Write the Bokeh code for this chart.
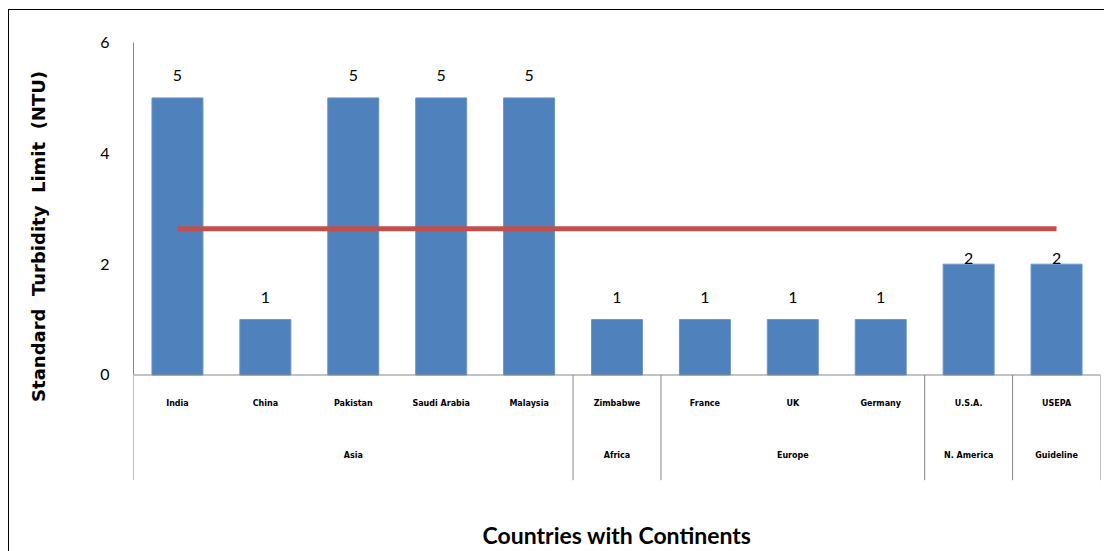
from bokeh.plotting import figure
from bokeh.models import Range1d, FixedTicker, ColumnDataSource
from bokeh.core.properties import value
from bokeh.embed import file_html
from bokeh.resources import INLINE

countries = ["India", "China", "Pakistan", "Saudi Arabia", "Malaysia", "Zimbabwe",
             "France", "UK", "Germany", "U.S.A.", "USEPA"]
continents = ["Asia", "Asia", "Asia", "Asia", "Asia", "Africa",
              "Europe", "Europe", "Europe", "N. America", "Guideline"]
limits = [5, 1, 5, 5, 5, 1, 1, 1, 1, 2, 2]
average_limit = 2.64
y_ticks = [0, 2, 4, 6]
y_title = "Standard  Turbidity  Limit  (NTU)"
x_title = "Countries with Continents"

BAR = "#4F81BD"
RED = "#C0504D"
GREY = "#868686"

n = len(countries)
xs = [i + 0.5 for i in range(n)]

p = figure(width=1104, height=551, x_range=Range1d(0, n), y_range=Range1d(-1.904, 6),
           output_backend="svg", toolbar_location=None,
           min_border_left=133, min_border_right=4, min_border_top=42, min_border_bottom=69)
p.outline_line_color = None
p.background_fill_color = None
p.border_fill_color = None
p.xgrid.visible = False
p.ygrid.visible = False
p.styles = {
    "background-color": "white",
    "background-image": "linear-gradient(#000,#000), linear-gradient(#000,#000)",
    "background-size": "1px 600px, 1100px 1px",
    "background-position": "8px 9px, 8px 9px",
    "background-repeat": "no-repeat",
}

# y axis
yax = p.yaxis[0]
yax.ticker = FixedTicker(ticks=y_ticks)
yax.bounds = (0, 6)
yax.axis_line_color = GREY
yax.major_tick_line_color = None
yax.minor_tick_line_color = None
yax.major_tick_out = 0
yax.major_tick_in = 0
yax.major_label_standoff = 24
yax.major_label_text_font = "Lato"
yax.major_label_text_font_size = "16px"
yax.major_label_text_color = "#000000"
# double spaces kept as no-break spaces; leading ones lift the centred title like the original
yax.axis_label = "\u00a0" * 8 + y_title.replace(" ", "\u00a0")
yax.axis_label_text_font = "DejaVu Sans"
yax.axis_label_text_font_style = "bold"
yax.axis_label_text_font_size = "18px"
yax.axis_label_standoff = 48
yax.axis_label_text_color = "#000000"

# x axis (only title)
xax = p.xaxis[0]
xax.ticker = FixedTicker(ticks=[])
xax.axis_line_color = None
xax.major_tick_line_color = None
xax.minor_tick_line_color = None
xax.axis_label = x_title
xax.axis_label_text_font = "Lato"
xax.axis_label_text_font_style = "bold"
xax.axis_label_text_font_size = "23px"
xax.axis_label_standoff = 40
xax.axis_label_text_color = "#000000"

src = ColumnDataSource(dict(
    x=xs, top=limits, country=countries,
    lbl=[str(v) for v in limits],
    off=[-6 if v == 2 else -22 for v in limits],
))
p.vbar(x="x", top="top", bottom=0, width=0.58, source=src,
       fill_color=BAR, line_color="#6A95C9", line_width=1)

# value labels
p.text(x="x", y="top", text="lbl", y_offset="off", source=src,
       text_align="center", text_baseline="middle",
       text_font=value("Lato"), text_font_size="16px", text_color="#000000")

# average line
p.line(x=[xs[0], xs[-1]], y=[average_limit, average_limit], line_color=RED, line_width=5)

# category axis line and group separators
p.segment(x0=[0], y0=[0], x1=[n], y1=[0], line_color=GREY, line_width=1)
bounds = [0]
for i in range(1, n):
    if continents[i] != continents[i - 1]:
        bounds.append(i)
bounds.append(n)
y_bottom = -1.904
p.segment(x0=bounds, y0=[0] * len(bounds), x1=bounds, y1=[y_bottom] * len(bounds),
          line_color=GREY, line_width=1)

# country labels
ROW1 = -0.52
ROW2 = -1.45
p.text(x=xs, y=[ROW1] * n, text=countries, text_align="center", text_baseline="middle",
       text_font=value("DejaVu Sans"), text_font_style="bold", text_font_size="8px",
       text_color="#000000")
# continent labels
groups = []
for a, b in zip(bounds[:-1], bounds[1:]):
    groups.append(((a + b) / 2, continents[a]))
p.text(x=[g[0] for g in groups], y=[ROW2] * len(groups), text=[g[1] for g in groups],
       text_align="center", text_baseline="middle",
       text_font=value("DejaVu Sans"), text_font_style="bold", text_font_size="8px",
       text_color="#000000")

open("out.html", "w").write(file_html(p, INLINE))
